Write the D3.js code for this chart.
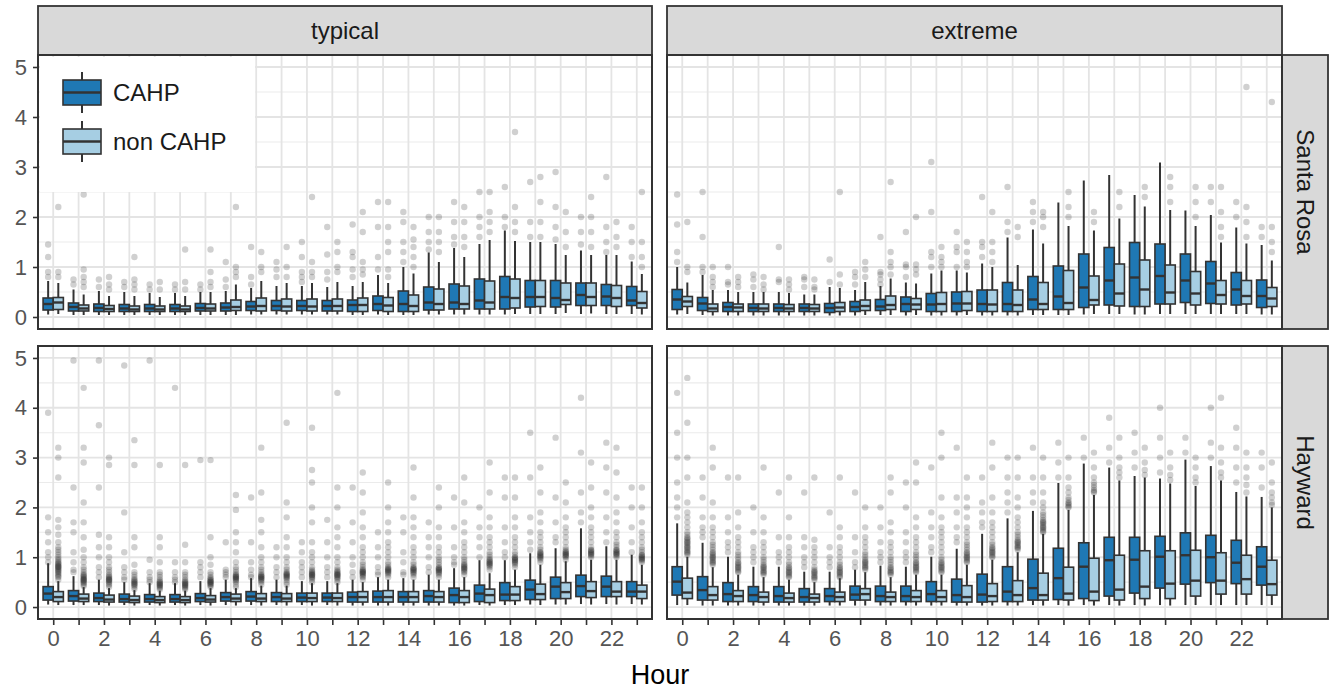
<!DOCTYPE html>
<html><head><meta charset="utf-8">
<script src="https://cdn.jsdelivr.net/npm/d3@7"></script>
<style>body{margin:0;background:#fff} svg text{font-family:"Liberation Sans",Arial,sans-serif}</style>
</head><body><svg id="c" width="1331" height="690"></svg>
<script>
// ---------------- DATA ----------------
const hours = [0,1,2,3,4,5,6,7,8,9,10,11,12,13,14,15,16,17,18,19,20,21,22,23];
const xTickLabels = ["0","2","4","6","8","10","12","14","16","18","20","22"];
const yTicks = [0,1,2,3,4,5];
const yMinorTicks = [0.5,1.5,2.5,3.5,4.5];
const colFacets = ["typical","extreme"];
const rowFacets = ["Santa Rosa","Hayward"];
const groups = ["CAHP","non CAHP"];
const groupColors = ["#1f78b4","#a6cee3"];
const xTitle = "Hour";

// box stats per hour: [lower whisker, q1, median, q3, upper whisker]
const srTypicalCAHP = [[0.05,0.14,0.26,0.38,0.72],[0.04,0.12,0.2,0.28,0.55],[0.04,0.11,0.18,0.26,0.52],[0.04,0.11,0.17,0.25,0.5],[0.04,0.11,0.17,0.25,0.48],[0.04,0.11,0.17,0.25,0.48],[0.04,0.12,0.18,0.27,0.5],[0.04,0.12,0.19,0.28,0.52],[0.05,0.13,0.21,0.31,0.58],[0.05,0.13,0.22,0.33,0.62],[0.05,0.13,0.22,0.33,0.62],[0.05,0.12,0.22,0.33,0.6],[0.04,0.11,0.24,0.34,0.62],[0.05,0.13,0.26,0.42,0.84],[0.04,0.11,0.26,0.52,1.0],[0.05,0.14,0.29,0.6,1.29],[0.05,0.16,0.29,0.66,1.38],[0.05,0.16,0.33,0.76,1.46],[0.05,0.16,0.4,0.81,1.73],[0.06,0.2,0.4,0.73,1.5],[0.06,0.2,0.38,0.73,1.46],[0.06,0.23,0.44,0.68,1.33],[0.06,0.23,0.41,0.65,1.24],[0.06,0.23,0.33,0.61,1.11]];
const srTypicalNon = [[0.06,0.15,0.29,0.39,0.68],[0.04,0.12,0.17,0.24,0.45],[0.04,0.11,0.16,0.23,0.42],[0.04,0.11,0.15,0.22,0.42],[0.04,0.11,0.15,0.22,0.4],[0.04,0.11,0.15,0.22,0.42],[0.04,0.12,0.17,0.26,0.5],[0.04,0.13,0.2,0.34,0.65],[0.05,0.12,0.22,0.38,0.72],[0.05,0.12,0.21,0.36,0.68],[0.05,0.12,0.21,0.36,0.68],[0.05,0.12,0.22,0.36,0.7],[0.04,0.11,0.24,0.38,0.7],[0.04,0.11,0.23,0.39,0.68],[0.04,0.11,0.22,0.44,0.87],[0.05,0.14,0.26,0.56,1.1],[0.05,0.16,0.26,0.62,1.2],[0.05,0.16,0.29,0.72,1.54],[0.06,0.18,0.38,0.76,1.52],[0.06,0.21,0.4,0.73,1.5],[0.08,0.25,0.34,0.68,1.24],[0.07,0.23,0.4,0.68,1.24],[0.06,0.21,0.38,0.63,1.24],[0.05,0.18,0.28,0.51,0.86]];
const srExtremeCAHP = [[0.05,0.15,0.35,0.55,1.0],[0.04,0.13,0.27,0.39,0.84],[0.03,0.11,0.2,0.29,0.54],[0.03,0.11,0.18,0.26,0.5],[0.03,0.11,0.18,0.26,0.5],[0.03,0.11,0.18,0.26,0.45],[0.03,0.09,0.18,0.27,0.6],[0.03,0.11,0.2,0.31,0.54],[0.04,0.13,0.21,0.35,0.62],[0.03,0.11,0.26,0.4,0.69],[0.03,0.11,0.25,0.47,0.87],[0.03,0.11,0.27,0.5,0.93],[0.03,0.11,0.26,0.54,1.07],[0.03,0.11,0.26,0.69,1.59],[0.04,0.15,0.35,0.81,1.75],[0.04,0.15,0.41,1.02,2.29],[0.05,0.19,0.59,1.26,2.73],[0.06,0.24,0.73,1.39,2.84],[0.05,0.21,0.79,1.49,2.44],[0.06,0.26,0.82,1.46,3.09],[0.06,0.29,0.73,1.26,2.13],[0.06,0.27,0.67,1.11,2.04],[0.06,0.24,0.55,0.89,1.79],[0.05,0.19,0.42,0.74,1.44]];
const srExtremeNon = [[0.06,0.21,0.31,0.41,0.69],[0.03,0.11,0.17,0.26,0.54],[0.03,0.11,0.19,0.26,0.5],[0.03,0.11,0.17,0.26,0.5],[0.03,0.11,0.17,0.25,0.48],[0.03,0.11,0.17,0.25,0.45],[0.03,0.11,0.19,0.29,0.58],[0.04,0.13,0.22,0.34,0.7],[0.04,0.15,0.24,0.42,0.77],[0.04,0.15,0.25,0.37,0.67],[0.03,0.11,0.26,0.49,0.93],[0.04,0.13,0.27,0.51,0.89],[0.03,0.11,0.25,0.54,1.0],[0.03,0.11,0.24,0.54,1.04],[0.04,0.15,0.26,0.69,1.47],[0.04,0.15,0.28,0.93,1.82],[0.06,0.24,0.34,0.82,1.73],[0.06,0.22,0.47,1.06,1.97],[0.05,0.21,0.55,1.14,2.21],[0.06,0.26,0.49,1.04,2.14],[0.06,0.24,0.47,0.91,1.82],[0.06,0.26,0.44,0.73,1.49],[0.06,0.26,0.42,0.73,1.47],[0.05,0.21,0.37,0.59,1.13]];
const hwTypicalCAHP = [[0.05,0.14,0.27,0.41,0.88],[0.04,0.12,0.22,0.33,0.62],[0.04,0.11,0.18,0.28,0.55],[0.04,0.1,0.16,0.26,0.5],[0.04,0.1,0.16,0.25,0.48],[0.04,0.1,0.16,0.25,0.48],[0.04,0.11,0.18,0.27,0.52],[0.04,0.12,0.2,0.29,0.55],[0.04,0.12,0.21,0.31,0.58],[0.04,0.11,0.2,0.29,0.55],[0.04,0.11,0.19,0.28,0.52],[0.04,0.11,0.19,0.28,0.52],[0.03,0.1,0.2,0.3,0.55],[0.03,0.1,0.2,0.32,0.6],[0.03,0.1,0.2,0.31,0.58],[0.03,0.1,0.22,0.33,0.65],[0.03,0.09,0.24,0.38,0.78],[0.04,0.11,0.27,0.44,0.94],[0.04,0.13,0.25,0.49,0.94],[0.05,0.15,0.35,0.54,1.08],[0.05,0.17,0.41,0.6,1.18],[0.06,0.21,0.42,0.64,1.58],[0.06,0.21,0.41,0.62,1.22],[0.06,0.21,0.31,0.51,1.05]];
const hwTypicalNon = [[0.04,0.11,0.2,0.31,0.52],[0.04,0.11,0.17,0.26,0.4],[0.03,0.1,0.15,0.24,0.38],[0.03,0.09,0.14,0.22,0.34],[0.03,0.09,0.14,0.21,0.33],[0.03,0.09,0.14,0.21,0.33],[0.03,0.1,0.15,0.23,0.38],[0.03,0.11,0.17,0.26,0.38],[0.03,0.11,0.17,0.27,0.43],[0.03,0.11,0.17,0.27,0.43],[0.03,0.11,0.18,0.28,0.48],[0.03,0.11,0.18,0.28,0.48],[0.03,0.1,0.2,0.31,0.5],[0.03,0.1,0.2,0.33,0.55],[0.03,0.1,0.2,0.31,0.55],[0.03,0.1,0.2,0.31,0.55],[0.03,0.09,0.2,0.33,0.6],[0.03,0.09,0.24,0.36,0.68],[0.04,0.13,0.25,0.41,0.75],[0.04,0.15,0.26,0.46,0.85],[0.05,0.17,0.3,0.49,0.92],[0.05,0.19,0.32,0.51,0.95],[0.05,0.21,0.31,0.51,0.95],[0.05,0.17,0.31,0.44,0.85]];
const hwExtremeCAHP = [[0.04,0.24,0.51,0.81,1.68],[0.03,0.14,0.34,0.61,1.29],[0.03,0.11,0.26,0.49,1.01],[0.03,0.11,0.24,0.41,0.81],[0.03,0.1,0.22,0.41,0.81],[0.03,0.1,0.2,0.37,0.71],[0.03,0.11,0.22,0.37,0.71],[0.03,0.14,0.25,0.42,0.75],[0.03,0.11,0.22,0.42,0.83],[0.03,0.11,0.22,0.42,0.81],[0.03,0.11,0.26,0.51,1.01],[0.03,0.1,0.24,0.56,1.17],[0.03,0.1,0.25,0.66,1.47],[0.03,0.11,0.31,0.81,1.78],[0.04,0.14,0.38,0.96,1.93],[0.04,0.15,0.58,1.18,2.49],[0.04,0.17,0.81,1.29,2.88],[0.04,0.22,0.94,1.4,2.8],[0.04,0.28,0.95,1.4,2.63],[0.04,0.38,1.01,1.42,2.58],[0.04,0.46,1.04,1.49,2.96],[0.04,0.49,1.0,1.44,2.83],[0.04,0.47,0.89,1.34,2.31],[0.04,0.44,0.81,1.21,2.21]];
const hwExtremeNon = [[0.04,0.17,0.29,0.58,1.01],[0.03,0.14,0.24,0.41,0.8],[0.03,0.11,0.22,0.33,0.65],[0.03,0.1,0.2,0.3,0.6],[0.03,0.1,0.18,0.28,0.55],[0.03,0.1,0.18,0.26,0.5],[0.03,0.11,0.2,0.3,0.58],[0.03,0.14,0.26,0.37,0.7],[0.03,0.11,0.2,0.3,0.6],[0.03,0.11,0.2,0.33,0.65],[0.03,0.11,0.2,0.33,0.65],[0.03,0.1,0.2,0.43,0.85],[0.03,0.11,0.22,0.47,0.95],[0.03,0.11,0.24,0.53,1.1],[0.03,0.14,0.24,0.68,1.47],[0.03,0.14,0.27,0.8,1.95],[0.03,0.13,0.31,0.98,2.25],[0.03,0.14,0.35,1.04,2.54],[0.03,0.17,0.41,1.13,2.6],[0.03,0.17,0.47,1.13,2.48],[0.04,0.22,0.53,1.14,2.43],[0.04,0.26,0.53,1.09,2.54],[0.04,0.26,0.56,1.04,2.22],[0.04,0.24,0.46,0.94,2.0]];

// outlier values per hour
const srTypicalCAHPOut = [[0.8,0.9,1.2,1.45],[0.65,0.75],[0.6,0.75],[0.6,0.7],[0.55,0.65],[0.55,0.65],[0.55,0.65],[0.6,0.75,1.1],[0.65,0.8,1.4],[0.8,0.95,1.1],[0.7,0.8,0.9,1.2,1.5],[0.75,0.9,1.25,1.8],[0.8,0.95,1.2,1.3,1.85],[0.95,1.2,1.8,2.3],[1.1,1.3,1.5,1.9,2.1],[1.35,1.5,1.7,2.0],[1.45,1.6,1.9,2.3],[1.6,1.8,2.0,2.5],[1.8,2.0,2.6],[1.6,1.9,2.7],[1.55,1.8,2.2,2.9],[1.45,1.7,2.0],[1.3,1.5,1.8,2.8],[1.2,1.5,1.8]];
const srTypicalNonOut = [[0.8,0.9,2.2],[0.6,0.7,0.8,0.95,2.45],[0.55,0.65,0.8],[0.55,0.65,0.75,1.2],[0.55,0.7],[0.55,0.7,1.35],[0.6,0.7,0.9,1.35],[0.8,0.9,1.0,2.2],[0.9,1.0,1.3],[0.8,1.0,1.4],[0.8,0.9,1.1,2.4],[0.9,1.0,1.3,1.5],[0.85,0.95,1.1,1.7,2.1],[0.8,0.95,1.3,1.5,1.8,2.3],[1.0,1.2,1.4,1.55,1.8],[1.3,1.5,1.7,2.0],[1.4,1.6,1.9,2.2],[1.7,1.9,2.1,2.5],[1.7,1.9,2.2,3.7],[1.6,1.9,2.3,2.8],[1.4,1.7,2.1],[1.4,1.7,2.0,2.4],[1.4,1.6,1.9],[1.0,1.2,1.5,2.5]];
const srExtremeCAHPOut = [[1.1,1.3,1.85,2.45],[0.9,1.0,1.6,2.5],[0.65,0.7,1.0],[0.6,0.75,0.85],[0.7,0.75,1.4],[0.6,0.75,0.8],[0.7,1.15],[0.65,0.8,0.9],[0.65,0.75,0.85,0.9,1.6],[0.8,1.0,1.05,1.7],[1.0,1.2,1.3,2.1,3.1],[1.0,1.3,1.4,1.7],[1.2,1.4,1.5,2.4],[1.7,1.9,2.6],[1.9,2.1,2.3],[],[],[],[],[],[],[2.3,2.6],[2.0,2.3],[1.6,1.8]];
const srExtremeNonOut = [[0.9,1.0,1.9],[0.6,0.7,0.8,1.0],[0.6,0.7,0.8],[0.55,0.65,0.8],[0.55,0.65,0.75],[0.55,0.6,0.75],[0.65,0.85,2.5],[0.8,0.95,1.1],[0.85,1.0,1.1,1.3,2.7],[0.85,0.95,1.05,2.0],[1.0,1.1,1.2,1.4],[1.0,1.1,1.3,1.5],[1.1,1.3,1.5,2.1],[1.6,1.8],[1.8,2.0,2.1],[2.0,2.2,2.5],[1.9,2.1],[2.2,2.5],[2.4,2.6],[2.3,2.6,2.8],[2.0,2.3,2.6],[1.6,1.8,2.1,2.6],[1.6,1.9,2.2,4.6],[1.3,1.5,1.8,4.3]];
const hwTypicalCAHPOut = [[0.9,1.0,1.1,1.3,1.5,1.8,3.9],[0.7,0.75,0.9,1.1,1.5,1.7,2.4,4.95],[0.6,0.7,0.8,1.0,1.2,1.45,2.4,3.65,4.95],[0.55,0.6,0.7,0.8,1.1,1.9,4.85],[0.5,0.55,0.6,0.7,0.95,4.95],[0.5,0.55,0.6,0.7,0.9,4.4],[0.6,0.7,0.8,0.9,2.95],[0.6,0.65,0.7,0.75,1.3],[0.6,0.65,0.75,0.9,1.3,2.2],[0.6,0.7,0.8,1.0,1.2],[0.6,0.7,0.8,0.9,1.1,1.3],[0.6,0.7,0.8,1.0,1.3,1.75],[0.6,0.7,0.85,1.0,1.3,1.7,2.4],[0.65,0.7,0.8,1.0,1.2,1.5],[0.65,0.7,0.9,1.1,1.5,1.8],[0.7,0.8,1.0,1.2,1.4,1.7],[0.85,0.9,1.0,1.2,1.6,2.2],[1.0,1.2,1.4,1.6,2.0],[1.0,1.1,1.3,1.6,2.2,2.6],[1.15,1.3,1.5,1.8,2.6,3.5],[1.3,1.4,1.7,2.2,3.4],[1.7,1.9,2.3,3.1,4.2],[1.3,1.5,1.8,2.3,2.8,3.3],[1.1,1.3,1.6,2.0,2.4]];
const hwTypicalNonOut = [[0.55,0.6,0.62,0.65,0.67,0.7,0.72,0.74,0.76,0.78,0.8,0.81,0.82,0.84,0.86,0.88,0.9,0.93,0.96,1.0,1.05,1.1,1.15,1.2,1.3,1.45,1.6,1.75,2.6,3.0,3.2],[0.42,0.45,0.48,0.5,0.52,0.54,0.55,0.56,0.58,0.6,0.62,0.64,0.66,0.7,0.75,0.8,0.9,1.0,1.15,1.4,1.7,2.1,2.9,3.2,4.4],[0.4,0.44,0.47,0.5,0.52,0.54,0.55,0.56,0.58,0.6,0.62,0.65,0.7,0.75,0.8,0.9,1.0,1.2,1.4,2.85,3.0],[0.36,0.4,0.43,0.45,0.47,0.48,0.5,0.52,0.54,0.56,0.6,0.65,0.7,0.85,1.2,1.4,2.85,3.35],[0.35,0.38,0.4,0.42,0.44,0.45,0.47,0.48,0.5,0.52,0.55,0.6,0.65,0.7,0.9,1.2,1.4,2.85],[0.35,0.38,0.4,0.42,0.44,0.45,0.47,0.48,0.5,0.52,0.55,0.6,0.65,0.7,0.9,1.25,2.85],[0.4,0.43,0.45,0.47,0.48,0.5,0.51,0.52,0.54,0.55,0.58,0.6,0.65,0.7,0.85,1.0,1.4,2.95],[0.4,0.45,0.5,0.53,0.55,0.57,0.58,0.6,0.61,0.62,0.64,0.66,0.7,0.75,0.8,0.9,1.1,1.3,1.5,1.95,2.25],[0.45,0.5,0.53,0.55,0.57,0.58,0.6,0.61,0.62,0.64,0.66,0.7,0.75,0.8,0.9,1.0,1.2,1.5,1.75,2.3,3.2],[0.45,0.5,0.55,0.58,0.6,0.62,0.63,0.65,0.66,0.68,0.7,0.75,0.8,0.9,1.0,1.2,1.4,1.8,2.1,3.7],[0.5,0.55,0.58,0.6,0.62,0.64,0.65,0.66,0.68,0.7,0.72,0.75,0.8,0.9,1.0,1.1,1.3,1.7,2.0,2.5,2.75,3.6],[0.5,0.55,0.58,0.6,0.62,0.64,0.65,0.66,0.68,0.7,0.72,0.75,0.8,0.9,1.0,1.2,1.4,1.6,2.0,2.4,4.3],[0.55,0.6,0.62,0.65,0.67,0.68,0.7,0.71,0.72,0.74,0.76,0.8,0.85,0.9,1.0,1.1,1.2,1.4,1.6,1.9,2.3,2.7],[0.6,0.65,0.68,0.7,0.72,0.73,0.75,0.76,0.78,0.8,0.85,0.9,1.0,1.1,1.2,1.3,1.5,1.7,2.0,2.5],[0.6,0.65,0.68,0.7,0.72,0.74,0.75,0.77,0.78,0.8,0.85,0.9,1.0,1.1,1.2,1.4,1.6,1.8,2.2,2.8],[0.6,0.65,0.68,0.7,0.72,0.74,0.75,0.77,0.78,0.8,0.85,0.9,0.95,1.0,1.1,1.2,1.4,1.6,2.0,2.4],[0.65,0.7,0.72,0.75,0.77,0.78,0.8,0.82,0.84,0.86,0.9,0.95,1.0,1.1,1.2,1.3,1.5,1.7,2.1,2.6],[0.75,0.8,0.83,0.85,0.87,0.88,0.9,0.92,0.94,0.96,1.0,1.05,1.1,1.2,1.3,1.4,1.6,1.8,2.3,2.9],[0.8,0.85,0.88,0.9,0.92,0.94,0.95,0.97,0.99,1.0,1.05,1.1,1.2,1.3,1.4,1.6,1.8,2.2,2.6],[0.9,0.95,0.98,1.0,1.02,1.03,1.05,1.07,1.09,1.1,1.15,1.2,1.3,1.4,1.5,1.7,1.9,2.3,2.8],[0.95,1.0,1.02,1.04,1.05,1.07,1.08,1.1,1.12,1.15,1.2,1.3,1.4,1.5,1.6,1.8,2.1,2.5],[1.0,1.03,1.05,1.07,1.08,1.1,1.12,1.14,1.15,1.2,1.3,1.4,1.5,1.6,1.8,2.0,2.4,2.9],[1.0,1.03,1.05,1.07,1.08,1.1,1.12,1.14,1.15,1.2,1.25,1.3,1.4,1.5,1.7,1.9,2.2,2.7,3.2],[0.9,0.93,0.95,0.97,0.98,1.0,1.02,1.04,1.05,1.1,1.15,1.2,1.3,1.4,1.5,1.7,2.0,2.4]];
const hwExtremeCAHPOut = [[1.8,2.0,2.2,2.5,3.0,3.5,4.3],[1.4,1.5,1.6,1.8,2.2,2.6],[1.1,1.2,1.3,1.5,1.8,2.6],[0.9,1.0,1.1,1.2,1.5,2.0],[0.9,1.0,1.1,1.4,2.3],[0.8,0.9,1.0,1.2,1.4,2.3],[0.8,0.9,1.0,1.2,1.9],[0.8,0.9,1.1,1.4,2.3],[0.9,1.0,1.1,1.3,1.6,2.0],[0.9,1.0,1.1,1.3,1.5,2.0,2.5],[1.1,1.2,1.4,1.6,1.9,2.8],[1.3,1.4,1.6,1.9,2.2,3.2],[1.6,1.7,1.9,2.1,2.6],[1.9,2.1,2.3,2.6,3.0],[2.1,2.3,2.6,3.2],[2.6,2.9,3.3],[3.0,3.4],[2.9,3.2,3.8],[2.8,3.1,3.5],[2.7,3.0,3.4,4.0],[3.1,3.4],[3.0,3.3,4.0],[2.5,2.8,3.2,3.6],[2.4,2.8,3.1]];
const hwExtremeNonOut = [[1.05,1.08,1.1,1.12,1.15,1.18,1.2,1.22,1.25,1.28,1.3,1.32,1.35,1.38,1.4,1.45,1.5,1.6,1.7,1.8,1.9,2.1,2.6,3.0,3.7,4.6],[0.85,0.88,0.9,0.92,0.95,0.98,1.0,1.02,1.05,1.08,1.1,1.15,1.2,1.25,1.3,1.4,1.5,1.6,1.8,2.1,2.8,3.2],[0.7,0.72,0.75,0.78,0.8,0.82,0.85,0.88,0.9,0.95,1.0,1.05,1.1,1.2,1.3,1.4,1.6,1.9,2.6],[0.65,0.68,0.7,0.72,0.75,0.78,0.8,0.82,0.85,0.9,0.95,1.0,1.1,1.2,1.3,1.5,1.8,2.8],[0.6,0.62,0.65,0.68,0.7,0.72,0.75,0.78,0.8,0.85,0.9,1.0,1.1,1.2,1.4,1.8,2.6],[0.55,0.58,0.6,0.62,0.65,0.68,0.7,0.72,0.75,0.8,0.9,1.0,1.1,1.2,1.35,2.6],[0.6,0.62,0.65,0.68,0.7,0.72,0.75,0.78,0.8,0.85,0.9,1.0,1.1,1.2,1.4,1.6,2.6],[0.75,0.78,0.8,0.82,0.85,0.88,0.9,0.92,0.95,1.0,1.05,1.1,1.2,1.3,1.4,1.6,2.0],[0.65,0.68,0.7,0.72,0.75,0.78,0.8,0.85,0.9,0.95,1.0,1.1,1.2,1.3,1.5,1.7,2.3,2.6],[0.7,0.72,0.75,0.78,0.8,0.82,0.85,0.88,0.9,0.95,1.0,1.05,1.1,1.2,1.3,1.4,1.6,1.8,2.5,2.9],[0.7,0.72,0.75,0.78,0.8,0.82,0.85,0.88,0.9,0.95,1.0,1.1,1.2,1.3,1.4,1.5,1.6,1.8,2.2,3.0,3.5],[0.9,0.92,0.95,0.98,1.0,1.02,1.05,1.08,1.1,1.15,1.2,1.25,1.3,1.4,1.5,1.6,1.8,2.0,2.2,2.6],[1.0,1.02,1.05,1.08,1.1,1.12,1.15,1.18,1.2,1.25,1.3,1.4,1.5,1.6,1.7,1.9,2.2,2.8,3.3],[1.15,1.18,1.2,1.22,1.25,1.28,1.3,1.32,1.35,1.4,1.45,1.5,1.6,1.7,1.8,2.0,2.2,2.6,3.0],[1.5,1.52,1.55,1.58,1.6,1.62,1.65,1.68,1.7,1.72,1.75,1.8,1.85,1.9,2.0,2.1,2.3,2.6,3.0],[2.0,2.02,2.05,2.08,2.1,2.15,2.2,2.3,2.4,2.6,3.0],[2.3,2.32,2.35,2.4,2.45,2.5,2.6,2.8,3.1],[2.6,2.7,2.8,3.0,3.4],[2.65,2.75,2.9,3.2],[2.55,2.65,2.8,3.1],[2.5,2.6,2.8,3.0],[2.6,2.7,2.9,3.2,4.2],[2.3,2.45,2.6,2.8,3.1],[2.05,2.1,2.2,2.3,2.5,2.9]];

// ---------------- LAYOUT ----------------
const colX = [[38,652],[667,1282]];
const rowY = [[55,329],[346,619]];
const stripTop = 6, stripRight = 1328;
const boxHalf = 0.4;

const panels = [
  {r:0,c:0,stats:[srTypicalCAHP,srTypicalNon],out:[srTypicalCAHPOut,srTypicalNonOut]},
  {r:0,c:1,stats:[srExtremeCAHP,srExtremeNon],out:[srExtremeCAHPOut,srExtremeNonOut]},
  {r:1,c:0,stats:[hwTypicalCAHP,hwTypicalNon],out:[hwTypicalCAHPOut,hwTypicalNonOut]},
  {r:1,c:1,stats:[hwExtremeCAHP,hwExtremeNon],out:[hwExtremeCAHPOut,hwExtremeNonOut]}
];

const svg = d3.select("#c");
const ink = "#333333";

// strips (top)
colFacets.forEach((name,c)=>{
  svg.append("rect").attr("x",colX[c][0]).attr("y",stripTop)
    .attr("width",colX[c][1]-colX[c][0]).attr("height",rowY[0][0]-stripTop)
    .attr("fill","#d9d9d9").attr("stroke",ink).attr("stroke-width",1.8);
  svg.append("text").attr("x",(colX[c][0]+colX[c][1])/2).attr("y",(stripTop+rowY[0][0])/2)
    .attr("text-anchor","middle").attr("dominant-baseline","central")
    .attr("font-size",24).attr("fill","#1a1a1a").text(name);
});
// strips (right)
rowFacets.forEach((name,r)=>{
  svg.append("rect").attr("x",colX[1][1]).attr("y",rowY[r][0])
    .attr("width",stripRight-colX[1][1]).attr("height",rowY[r][1]-rowY[r][0])
    .attr("fill","#d9d9d9").attr("stroke",ink).attr("stroke-width",1.8);
  const cx=(colX[1][1]+stripRight)/2, cy=(rowY[r][0]+rowY[r][1])/2;
  svg.append("text").attr("transform",`translate(${cx},${cy}) rotate(90)`)
    .attr("text-anchor","middle").attr("dominant-baseline","central")
    .attr("font-size",24).attr("fill","#1a1a1a").text(name);
});

panels.forEach(p=>{
  const x = d3.scaleLinear().domain([-0.6,23.6]).range(colX[p.c]);
  const y = d3.scaleLinear().domain([-0.24,5.24]).range([rowY[p.r][1],rowY[p.r][0]]);
  const g = svg.append("g");
  const [x0,x1]=colX[p.c], [y0,y1]=rowY[p.r];
  // grid
  g.selectAll(".ymin").data(yMinorTicks).join("line")
    .attr("x1",x0).attr("x2",x1).attr("y1",d=>y(d)).attr("y2",d=>y(d))
    .attr("stroke","#ebebeb").attr("stroke-width",1.1);
  g.selectAll(".ymaj").data(yTicks).join("line")
    .attr("x1",x0).attr("x2",x1).attr("y1",d=>y(d)).attr("y2",d=>y(d))
    .attr("stroke","#e4e4e4").attr("stroke-width",1.8);
  g.selectAll(".xmaj").data(hours).join("line")
    .attr("x1",d=>x(d)).attr("x2",d=>x(d)).attr("y1",y0).attr("y2",y1)
    .attr("stroke","#e4e4e4").attr("stroke-width",1.8);

  // outliers
  groups.forEach((gname,gi)=>{
    hours.forEach(h=>{
      const cx = gi===0 ? x(h-boxHalf/2) : x(h+boxHalf/2);
      g.selectAll(null).data(p.out[gi][h]).join("circle")
        .attr("cx",cx).attr("cy",v=>y(v)).attr("r",3.2)
        .attr("fill","#222").attr("fill-opacity",0.21);
    });
  });
  // boxes
  groups.forEach((gname,gi)=>{
    hours.forEach(h=>{
      const s = p.stats[gi][h];
      const bx0 = gi===0 ? x(h-boxHalf) : x(h);
      const bx1 = gi===0 ? x(h) : x(h+boxHalf);
      const cx = (bx0+bx1)/2;
      g.append("line").attr("x1",cx).attr("x2",cx).attr("y1",y(s[3])).attr("y2",y(s[4]))
        .attr("stroke",ink).attr("stroke-width",2);
      g.append("line").attr("x1",cx).attr("x2",cx).attr("y1",y(s[1])).attr("y2",y(s[0]))
        .attr("stroke",ink).attr("stroke-width",2);
      g.append("rect").attr("x",bx0).attr("width",bx1-bx0)
        .attr("y",y(s[3])).attr("height",y(s[1])-y(s[3]))
        .attr("fill",groupColors[gi]).attr("stroke",ink).attr("stroke-width",1.6);
      g.append("line").attr("x1",bx0).attr("x2",bx1).attr("y1",y(s[2])).attr("y2",y(s[2]))
        .attr("stroke",ink).attr("stroke-width",2.4);
    });
  });
  // border
  g.append("rect").attr("x",x0).attr("y",y0).attr("width",x1-x0).attr("height",y1-y0)
    .attr("fill","none").attr("stroke",ink).attr("stroke-width",2);

  // axes
  if(p.c===0){
    const ax = svg.append("g").attr("transform",`translate(${x0},0)`)
      .call(d3.axisLeft(y).tickValues(yTicks).tickSize(5).tickPadding(6).tickFormat(d3.format("d")));
    ax.select(".domain").remove();
    ax.selectAll("line").attr("stroke",ink).attr("stroke-width",1.6);
    ax.selectAll("text").attr("font-size",22).attr("fill","#555").attr("font-family","Liberation Sans, Arial, sans-serif");
  }
  if(p.r===1){
    const ax = svg.append("g").attr("transform",`translate(0,${y1})`)
      .call(d3.axisBottom(x).tickValues(hours).tickSize(6).tickPadding(5)
        .tickFormat(d=>xTickLabels.includes(String(d))?String(d):""));
    ax.select(".domain").remove();
    ax.selectAll("line").attr("stroke",ink).attr("stroke-width",1.6);
    ax.selectAll("text").attr("font-size",22).attr("fill","#555").attr("font-family","Liberation Sans, Arial, sans-serif");
  }
});

// axis title
svg.append("text").attr("x",(colX[0][0]+colX[1][1])/2).attr("y",675)
  .attr("text-anchor","middle").attr("dominant-baseline","central")
  .attr("font-size",27).attr("fill","#000").text(xTitle);

// legend
const lg = svg.append("g");
lg.append("rect").attr("x",40).attr("y",57).attr("width",215).attr("height",135).attr("fill","#fff");
const keyY = [80,129];
groups.forEach((gname,gi)=>{
  const ky = keyY[gi];
  lg.append("line").attr("x1",82).attr("x2",82).attr("y1",ky-8).attr("y2",ky+33)
    .attr("stroke",ink).attr("stroke-width",2);
  lg.append("rect").attr("x",63).attr("y",ky).attr("width",38).attr("height",25)
    .attr("fill",groupColors[gi]).attr("stroke",ink).attr("stroke-width",1.6);
  lg.append("line").attr("x1",63).attr("x2",101).attr("y1",ky+12.5).attr("y2",ky+12.5)
    .attr("stroke",ink).attr("stroke-width",2.4);
  lg.append("text").attr("x",113).attr("y",ky+12.5).attr("dominant-baseline","central")
    .attr("font-size",24).attr("fill","#1a1a1a").text(gname);
});
</script></body></html>
